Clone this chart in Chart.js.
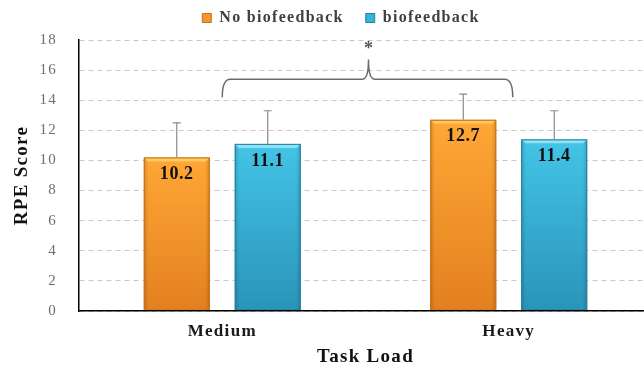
<!DOCTYPE html>
<html>
<head>
<meta charset="utf-8">
<title>RPE Score by Task Load</title>
<script src="https://cdn.jsdelivr.net/npm/chart.js@4.4.1/dist/chart.umd.min.js"></script>
<style>
  html, body { margin: 0; padding: 0; background: #fff; overflow: hidden; }
  #wrap { position: relative; width: 652px; height: 369px; }
</style>
</head>
<body>
<div id="wrap"><canvas id="chart" width="652" height="369"></canvas></div>
<script>
// ---- data ----
const categories = ['Medium', 'Heavy'];
const seriesNames = ['No biofeedback', 'biofeedback'];
const noBiofeedback = [10.2, 12.7];
const biofeedback = [11.1, 11.4];
const noBiofeedbackSD = [2.3, 1.7];
const biofeedbackSD = [2.2, 1.9];
const yTicks = [0, 2, 4, 6, 8, 10, 12, 14, 16, 18];
const significanceMark = '*';

const SERIF = "'Liberation Serif', 'Times New Roman', serif";

const palette = [
  { base: '#F7962E', top: '#FFA736', bottom: '#E3801F', cap: 'rgba(255,214,110,0.75)', border: '#C9701A' },
  { base: '#35B4D8', top: '#43C4E6', bottom: '#2A94B9', cap: 'rgba(170,235,250,0.75)', border: '#23819F' }
];

// letter spacing for legend and axis text
const textSpacing = {
  id: 'textSpacing',
  beforeUpdate(chart) { chart.ctx.letterSpacing = '1.3px'; },
  beforeDraw(chart) { chart.ctx.letterSpacing = '1.3px'; },
  beforeDatasetsDraw(chart) { chart.ctx.letterSpacing = '0px'; }
};

// place the legend row above the plot
const legendPlacement = {
  id: 'legendPlacement',
  afterLayout(chart) {
    const lg = chart.legend;
    if (!lg) return;
    lg.left += 15; lg.right += 15;
    lg.top -= 12; lg.bottom -= 12;
  }
};

// shaded bars, error whiskers, value labels and significance bracket
const barExtras = {
  id: 'barExtras',
  afterDatasetsDraw(chart, args, opts) {
    const ctx = chart.ctx;
    const yScale = chart.scales.y;
    const xScale = chart.scales.x;
    chart.data.datasets.forEach((ds, di) => {
      const meta = chart.getDatasetMeta(di);
      const pal = palette[di];
      meta.data.forEach((el, i) => {
        const { x, y, base, width } = el.getProps(['x', 'y', 'base', 'width'], true);
        const l = x - width / 2, r = x + width / 2, h = base - y;
        ctx.save();
        const gv = ctx.createLinearGradient(0, y, 0, base);
        gv.addColorStop(0, pal.top);
        gv.addColorStop(1, pal.bottom);
        ctx.fillStyle = gv;
        ctx.fillRect(l, y, width, h);
        const gh = ctx.createLinearGradient(l, 0, r, 0);
        gh.addColorStop(0, 'rgba(0,0,0,0.16)');
        gh.addColorStop(0.07, 'rgba(0,0,0,0)');
        gh.addColorStop(0.93, 'rgba(0,0,0,0)');
        gh.addColorStop(1, 'rgba(0,0,0,0.16)');
        ctx.fillStyle = gh;
        ctx.fillRect(l, y, width, h);
        ctx.fillStyle = pal.cap;
        ctx.beginPath();
        ctx.moveTo(l, y); ctx.lineTo(r, y); ctx.lineTo(r - 4, y + 4); ctx.lineTo(l + 4, y + 4);
        ctx.closePath(); ctx.fill();
        ctx.strokeStyle = pal.border;
        ctx.lineWidth = 1;
        ctx.strokeRect(l + 0.5, y + 0.5, width - 1, h - 1);

        // upper whisker
        const sd = ds.sd[i];
        const yTop = yScale.getPixelForValue(ds.data[i] + sd);
        ctx.strokeStyle = '#8a8a8a';
        ctx.lineWidth = 1.2;
        ctx.beginPath();
        ctx.moveTo(x, y); ctx.lineTo(x, yTop);
        ctx.moveTo(x - 4, yTop); ctx.lineTo(x + 4, yTop);
        ctx.stroke();

        // value label
        ctx.letterSpacing = '0.6px';
        ctx.fillStyle = '#111';
        ctx.font = 'bold 18px ' + SERIF;
        ctx.textAlign = 'center';
        ctx.textBaseline = 'middle';
        ctx.fillText(ds.data[i].toFixed(1), x, y + 17);
        ctx.restore();
      });
    });

    // significance bracket between the two task loads
    const xa = xScale.getPixelForValue(0);
    const xb = xScale.getPixelForValue(1) + 4;
    const xm = (xa + xb) / 2 + 1;
    const yEnd = yScale.getPixelForValue(opts.armLevel);
    const yBar = yScale.getPixelForValue(opts.barLevel);
    const yTip = yScale.getPixelForValue(opts.tipLevel);
    const yStar = yScale.getPixelForValue(opts.starLevel);
    ctx.save();
    ctx.strokeStyle = '#6b6b6b';
    ctx.lineWidth = 1.5;
    ctx.beginPath();
    ctx.moveTo(xa, yEnd);
    ctx.quadraticCurveTo(xa, yBar, xa + 8, yBar);
    ctx.lineTo(xm - 6, yBar);
    ctx.quadraticCurveTo(xm, yBar, xm, yTip);
    ctx.quadraticCurveTo(xm, yBar, xm + 6, yBar);
    ctx.lineTo(xb - 8, yBar);
    ctx.quadraticCurveTo(xb, yBar, xb, yEnd);
    ctx.stroke();
    ctx.fillStyle = '#555';
    ctx.font = 'bold 18px ' + SERIF;
    ctx.textAlign = 'center';
    ctx.textBaseline = 'middle';
    ctx.fillText(significanceMark, xm, yStar + 3);
    ctx.restore();
  }
};

new Chart(document.getElementById('chart'), {
  type: 'bar',
  data: {
    labels: categories,
    datasets: [
      { label: seriesNames[0], data: noBiofeedback, sd: noBiofeedbackSD,
        backgroundColor: palette[0].base, borderColor: palette[0].border, borderWidth: 1,
        categoryPercentage: 0.635, barPercentage: 0.725 },
      { label: seriesNames[1], data: biofeedback, sd: biofeedbackSD,
        backgroundColor: palette[1].base, borderColor: palette[1].border, borderWidth: 1,
        categoryPercentage: 0.635, barPercentage: 0.725 }
    ]
  },
  options: {
    responsive: false,
    animation: false,
    events: [],
    layout: { padding: 0 },
    plugins: {
      tooltip: { enabled: false },
      legend: {
        position: 'top',
        maxHeight: 40,
        labels: {
          boxWidth: 9, boxHeight: 9, padding: 22,
          color: '#404040',
          font: { family: SERIF, size: 16, weight: 'bold' }
        }
      },
      barExtras: { armLevel: 14.2, barLevel: 15.4, tipLevel: 16.7, starLevel: 17.6 }
    },
    scales: {
      x: {
        grid: { display: false, drawTicks: false },
        border: { display: true, color: '#000', width: 1.5, z: 1 },
        ticks: { color: '#1a1a1a', padding: 10, font: { family: SERIF, size: 17, weight: 'bold' } },
        title: { display: true, text: 'Task Load', color: '#111', padding: { top: 0, bottom: 1 },
                 font: { family: SERIF, size: 19, weight: 'bold' } },
        afterFit(scale) { scale.height = 58; }
      },
      y: {
        min: 0, max: 18,
        afterBuildTicks(scale) { scale.ticks = yTicks.map(v => ({ value: v })); },
        grid: { color: '#c8c8c8', lineWidth: 1, drawTicks: false },
        border: { display: true, color: '#000', width: 1.5, dash: [5, 4], z: 1 },
        ticks: { color: '#6e6e6e', padding: 22, font: { family: SERIF, size: 15 } },
        title: { display: true, text: 'RPE Score', color: '#111', padding: { top: 11, bottom: 0 },
                 font: { family: SERIF, size: 19, weight: 'bold' } },
        afterFit(scale) { scale.width = 79; }
      }
    }
  },
  plugins: [textSpacing, legendPlacement, barExtras]
});
</script>
</body>
</html>
